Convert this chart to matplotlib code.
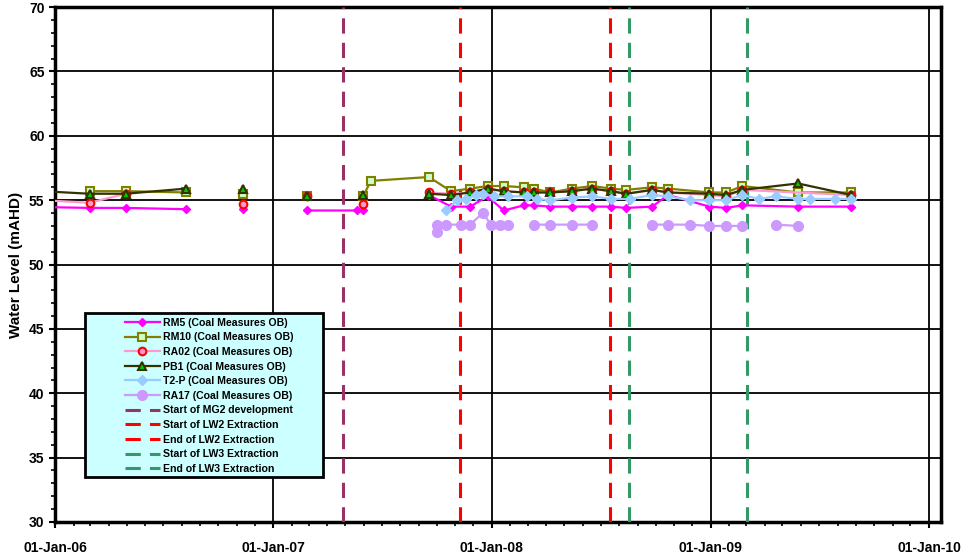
#!/usr/bin/python3
# Water level hydrograph - coal measures observation bores

import numpy as np
import matplotlib
matplotlib.use('Agg')
import matplotlib.pyplot as plt
import matplotlib.dates as mdates
from matplotlib.patches import Rectangle

plt.rcParams['font.family'] = ['Liberation Sans', 'DejaVu Sans']
plt.rcParams['font.weight'] = 'bold'

nan = np.nan

# ---- data (nan breaks the line) ----
rm5_dates = ['2005-11-01', '2006-02-28', '2006-04-29', '2006-08-08', '2006-08-08',
             '2006-11-11', '2006-11-11', '2007-02-26', '2007-05-21', '2007-05-31',
             '2007-05-31', '2007-09-18', '2007-10-25', '2007-11-26', '2007-12-25',
             '2008-01-21', '2008-02-24', '2008-03-11', '2008-04-08', '2008-05-14',
             '2008-06-17', '2008-07-18', '2008-08-13', '2008-09-25', '2008-10-22',
             '2008-12-30', '2009-01-27', '2009-02-23', '2009-05-27', '2009-08-24']
rm5_vals = [54.5, 54.4, 54.4, 54.3, nan,
            54.3, nan, 54.2, 54.2, 54.2,
            nan, 55.4, 54.5, 54.5, 55.3,
            54.2, 54.6, 54.6, 54.5, 54.5,
            54.5, 54.5, 54.4, 54.5, 55.4,
            54.5, 54.4, 54.6, 54.5, 54.5]

rm10_dates = ['2006-02-28', '2006-04-29', '2006-08-08', '2006-08-08', '2006-11-11',
              '2006-11-11', '2007-02-26', '2007-02-26', '2007-05-31', '2007-06-13',
              '2007-09-18', '2007-10-25', '2007-11-26', '2007-12-25', '2008-01-21',
              '2008-02-24', '2008-03-11', '2008-04-08', '2008-05-14', '2008-06-17',
              '2008-07-18', '2008-08-13', '2008-09-25', '2008-10-22', '2008-12-30',
              '2009-01-27', '2009-02-23', '2009-05-27', '2009-08-24']
rm10_vals = [55.7, 55.7, 55.6, nan, 55.5,
             nan, 55.3, nan, 55.3, 56.5,
             56.8, 55.7, 55.9, 56.1, 56.1,
             56.0, 55.9, 55.6, 55.9, 56.1,
             55.9, 55.8, 56.0, 55.9, 55.6,
             55.6, 56.1, 55.6, 55.6]

ra02_dates = ['2005-11-01', '2006-02-28', '2006-04-29', '2006-04-29', '2006-11-11',
              '2006-11-11', '2007-02-26', '2007-02-26', '2007-05-31', '2007-05-31',
              '2007-09-18', '2007-10-25', '2007-11-26', '2007-12-25', '2008-01-21',
              '2008-02-24', '2008-03-11', '2008-04-08', '2008-05-14', '2008-06-17',
              '2008-07-18', '2008-08-13', '2008-09-25', '2008-10-22', '2008-12-30',
              '2009-01-27', '2009-02-23', '2009-08-24']
ra02_vals = [55.1, 54.8, 55.5, nan, 54.7,
             nan, 55.3, nan, 54.7, nan,
             55.6, 55.5, 55.6, 55.9, 55.7,
             55.6, 55.6, 55.6, 55.7, 55.9,
             55.7, 55.5, 55.8, 55.6, 55.4,
             55.3, 55.8, 55.4]

pb1_dates = ['2005-11-01', '2006-02-28', '2006-04-29', '2006-08-08', '2006-08-08',
             '2006-11-11', '2006-11-11', '2007-02-26', '2007-02-26', '2007-05-31',
             '2007-05-31', '2007-09-18', '2007-10-25', '2007-11-26', '2007-12-25',
             '2008-01-21', '2008-02-24', '2008-03-11', '2008-04-08', '2008-05-14',
             '2008-06-17', '2008-07-18', '2008-08-13', '2008-09-25', '2008-10-22',
             '2008-12-30', '2009-01-27', '2009-02-23', '2009-05-27', '2009-08-24']
pb1_vals = [55.8, 55.5, 55.5, 55.9, nan,
            55.9, nan, 55.3, nan, 55.4,
            nan, 55.5, 55.4, 55.6, 55.9,
            55.7, 55.6, 55.6, 55.6, 55.7,
            55.9, 55.7, 55.5, 55.8, 55.6,
            55.5, 55.4, 55.8, 56.3, 55.4]

t2p_dates = ['2007-10-17', '2007-11-04', '2007-11-19', '2007-12-05', '2007-12-17',
             '2008-01-05', '2008-01-28', '2008-02-29', '2008-03-17', '2008-04-08',
             '2008-05-14', '2008-06-17', '2008-07-18', '2008-08-19', '2008-09-25',
             '2008-10-22', '2008-11-28', '2008-12-30', '2009-01-27', '2009-02-23',
             '2009-03-23', '2009-04-20', '2009-05-27', '2009-06-16', '2009-07-28',
             '2009-08-24']
t2p_vals = [54.2, 55.0, 55.1, 55.4, 55.5,
            55.3, 55.3, 55.3, 55.1, 55.0,
            55.2, 55.3, 55.1, 55.1, 55.4,
            55.3, 55.0, 55.0, 55.0, 55.4,
            55.1, 55.3, 55.1, 55.1, 55.1,
            55.1]

ra17_dates = ['2007-10-01', '2007-10-02', '2007-10-17', '2007-11-10', '2007-11-26',
              '2007-12-17', '2007-12-31', '2008-01-15', '2008-01-28', '2008-01-28',
              '2008-03-11', '2008-04-08', '2008-05-14', '2008-06-17', '2008-06-17',
              '2008-09-25', '2008-10-22', '2008-11-28', '2008-12-30', '2009-01-27',
              '2009-02-23', '2009-02-23', '2009-04-20', '2009-05-27']
ra17_vals = [52.5, 53.1, 53.1, 53.1, 53.1,
             54.0, 53.1, 53.1, 53.1, nan,
             53.1, 53.1, 53.1, 53.1, nan,
             53.1, 53.1, 53.1, 53.0, 53.0,
             53.0, nan, 53.1, 53.0]

event_dates = ['2007-04-28', '2007-11-09', '2008-07-17', '2008-08-18', '2009-03-03']
event_labels = ['Start of MG2 development', 'Start of LW2 Extraction',
                'End of LW2 Extraction', 'Start of LW3 Extraction',
                'End of LW3 Extraction']
event_colors = ['#993366', '#FF0000', '#FF0000', '#339966', '#339966']

x_ticks = ['2006-01-01', '2007-01-01', '2008-01-01', '2009-01-01', '2010-01-01']

def d(lst):
    return np.array(lst, dtype='datetime64[D]')

fig = plt.figure(figsize=(9.61, 5.56), dpi=100)
ax = fig.add_axes([0.0572, 0.0612, 0.922, 0.926])

handles = []
series = [
    (rm5_dates, rm5_vals, 'RM5 (Coal Measures OB)',
     dict(color='#FF00FF', marker='D', ms=4.5, mfc='#FF00FF', mec='#FF00FF')),
    (rm10_dates, rm10_vals, 'RM10 (Coal Measures OB)',
     dict(color='#808000', marker='s', ms=6, mfc='#CCFFCC', mec='#808000', mew=1.5)),
    (ra02_dates, ra02_vals, 'RA02 (Coal Measures OB)',
     dict(color='#FF99CC', marker='o', ms=5.5, mfc='#FF99CC', mec='#FF0000', mew=1.5)),
    (pb1_dates, pb1_vals, 'PB1 (Coal Measures OB)',
     dict(color='#333300', marker='^', ms=6, mfc='#00CC00', mec='#333300', mew=1.5)),
    (t2p_dates, t2p_vals, 'T2-P (Coal Measures OB)',
     dict(color='#99CCFF', marker='D', ms=5, mfc='#99CCFF', mec='#99CCFF')),
    (ra17_dates, ra17_vals, 'RA17 (Coal Measures OB)',
     dict(color='#CC99FF', marker='o', ms=7, mfc='#CC99FF', mec='#CC99FF')),
]
for dates, vals, lab, st in series:
    p, = ax.plot(d(dates), vals, linewidth=1.6, label=lab, zorder=4, **st)
    handles.append(p)

for dt, lab, c in zip(event_dates, event_labels, event_colors):
    l = ax.axvline(np.datetime64(dt), color=c, linewidth=2.2,
                   linestyle=(0, (5, 3)), label=lab, zorder=3)
    handles.append(l)

ax.set_xlim(np.datetime64('2006-01-01'), np.datetime64('2010-01-21'))
ax.set_ylim(30, 70)
ax.set_xticks(d(x_ticks))
ax.xaxis.set_major_formatter(mdates.DateFormatter('%d-%b-%y'))
ax.xaxis.set_minor_locator(mdates.MonthLocator())
ax.set_yticks(np.arange(30, 71, 5))
ax.yaxis.set_minor_locator(plt.MultipleLocator(1))

ax.grid(True, which='major', color='black', linewidth=1.3, zorder=1)
ax.set_axisbelow(True)
for s in ax.spines.values():
    s.set_linewidth(2.5)

ax.tick_params(axis='both', which='major', direction='out', length=4,
               width=1.5, labelsize=10)
ax.tick_params(axis='both', which='minor', direction='out', length=3, width=1.2)
ax.tick_params(axis='x', pad=10)
for lbl in ax.get_xticklabels() + ax.get_yticklabels():
    lbl.set_fontweight('bold')

ax.set_ylabel('Water Level (mAHD)', fontsize=11, fontweight='bold', labelpad=4)

# legend box drawn separately to get the wide padding of the original
box = Rectangle((0.0339, 0.0874), 0.2686, 0.3184, transform=ax.transAxes,
                facecolor='#CCFFFF', edgecolor='black', linewidth=2, zorder=9)
ax.add_patch(box)
leg = ax.legend(handles=handles, loc='upper left', bbox_to_anchor=(0.079, 0.397),
                fontsize=7.6, numpoints=1, handlelength=3.3, frameon=False,
                borderpad=0, labelspacing=0.44, handletextpad=0.3,
                borderaxespad=0)
leg.set_zorder(10)
for t in leg.get_texts():
    t.set_fontweight('bold')

fig.savefig('out.png', dpi=100)
